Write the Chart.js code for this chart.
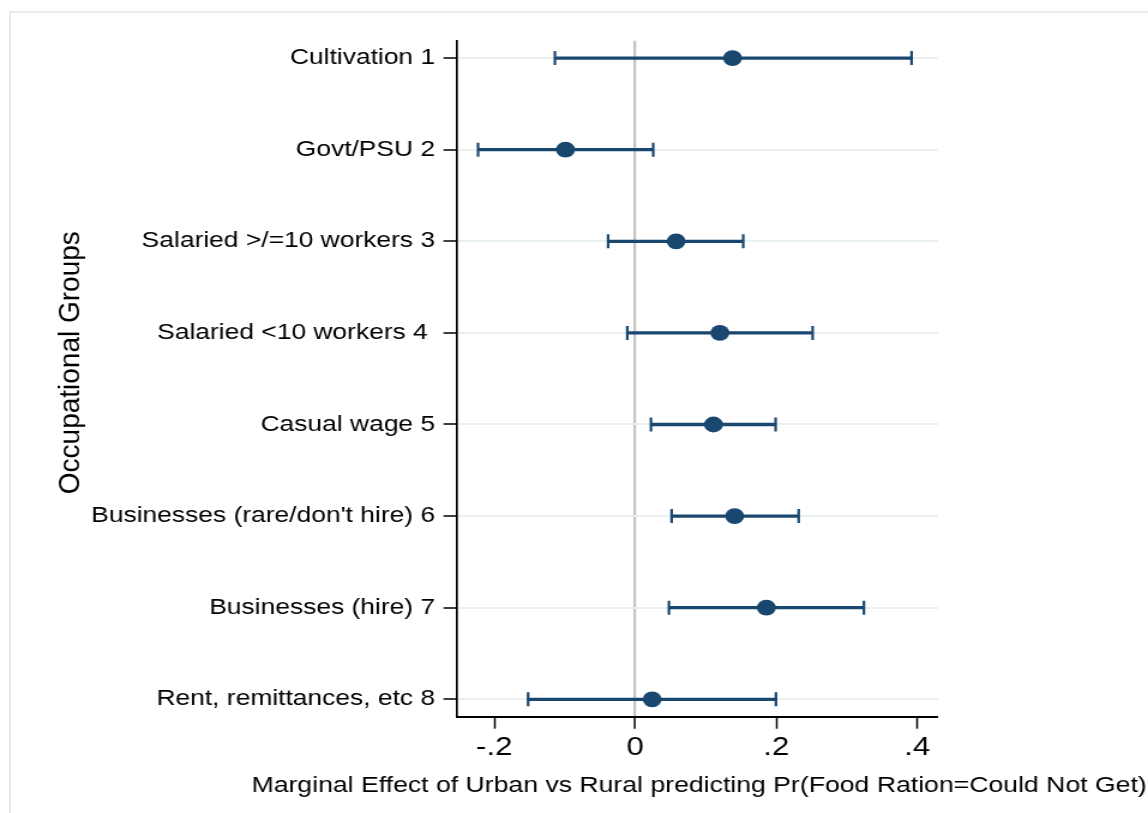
<!DOCTYPE html>
<html><head><meta charset="utf-8">
<script src="https://cdn.jsdelivr.net/npm/chart.js@4.4.1/dist/chart.umd.min.js"></script>
<style>
html,body{margin:0;padding:0;background:#fff;overflow:hidden;}
#frame{position:absolute;left:9px;top:11px;width:1160px;height:830px;border-left:2px solid #e6ecf1;border-top:2px solid #e6ecf1;box-sizing:border-box;}
#wrap{position:absolute;left:0;top:0;width:957px;height:813px;transform:scaleX(1.19958);transform-origin:0 0;}
</style></head><body>
<div id="frame"></div>
<div id="wrap"><canvas id="c"></canvas></div>
<script>
const categories = [
  'Cultivation 1',
  'Govt/PSU 2',
  'Salaried >/=10 workers 3',
  'Salaried <10 workers 4 ',
  'Casual wage 5',
  "Businesses (rare/don't hire) 6",
  'Businesses (hire) 7',
  'Rent, remittances, etc 8'
];
const estimates = [0.138, -0.099, 0.058, 0.120, 0.111, 0.141, 0.186, 0.024];
const ciLow     = [-0.114, -0.223, -0.0385, -0.0113, 0.0223, 0.0516, 0.0478, -0.152];
const ciHigh    = [0.392, 0.0255, 0.1532, 0.2516, 0.1991, 0.2318, 0.3244, 0.1996];
const xTickValues = [-0.2, 0, 0.2, 0.4];
const xTickLabels = ['-.2', '0', '.2', '.4'];
const xTitle = 'Marginal Effect of Urban vs Rural predicting Pr(Food Ration=Could Not Get)';
const yTitle = 'Occupational Groups';

const S = 1148 / 957;
const FAM = '"Liberation Sans", Arial, Helvetica, sans-serif';
const NAVY = '#1a476f';

const titlesPlugin = {
  id: 'axisTitles',
  afterDraw(chart) {
    const ctx = chart.ctx, a = chart.chartArea;
    // y title (rotated)
    ctx.save();
    ctx.translate(59.2, (a.top + a.bottom) / 2 - 16);
    ctx.scale(1 / S, 1);
    ctx.rotate(-Math.PI / 2);
    ctx.font = '28px ' + FAM;
    ctx.fillStyle = '#000';
    ctx.textAlign = 'center';
    ctx.textBaseline = 'middle';
    ctx.fillText(yTitle, 0, 0);
    ctx.restore();
    // x title
    ctx.save();
    ctx.font = '22.2px ' + FAM;
    ctx.fillStyle = '#000';
    ctx.textAlign = 'center';
    ctx.textBaseline = 'middle';
    ctx.fillText(xTitle, (a.left + a.right) / 2 + 1.5, chart.height - 27);
    ctx.restore();
  }
};

new Chart(document.getElementById('c'), {
  type: 'scatter',
  data: {
    datasets: [
      {
        type: 'scatter',
        data: estimates.map((v, i) => ({x: v, y: i + 1})),
        pointStyle: 'circle',
        pointRadius: 7.9,
        pointHoverRadius: 7.9,
        backgroundColor: NAVY,
        borderWidth: 0,
        order: 1
      },
      {
        type: 'scatter',
        data: ciLow.map((v, i) => ({x: v, y: i + 1})).concat(ciHigh.map((v, i) => ({x: v, y: i + 1}))),
        pointStyle: 'line',
        rotation: 90,
        pointRadius: 7,
        pointHoverRadius: 7,
        borderColor: NAVY,
        borderWidth: 2.2,
        order: 2
      },
      {
        type: 'bar',
        indexAxis: 'y',
        data: categories.map((c, i) => ({y: i + 1, x: [ciLow[i], ciHigh[i]]})),
        backgroundColor: NAVY,
        borderWidth: 0,
        barThickness: 2.6,
        order: 3
      }
    ]
  },
  options: {
    responsive: true,
    maintainAspectRatio: false,
    animation: false,
    layout: { padding: { left: 0, top: 40.7, right: 175.1, bottom: 0 } },
    plugins: { legend: { display: false }, tooltip: { enabled: false } },
    scales: {
      x: {
        type: 'linear',
        offset: false,
        min: -0.2533,
        max: 0.4294,
        afterBuildTicks: s => { s.ticks = xTickValues.map(v => ({value: v})); },
        afterFit: s => { s.height = 96.3; },
        ticks: {
          callback: (v, i) => xTickLabels[i],
          font: { size: 26, family: FAM },
          color: '#000',
          padding: 4,
          maxRotation: 0,
          autoSkip: false
        },
        grid: {
          offset: false,
          drawOnChartArea: true,
          color: c => (c.tick && c.tick.value === 0) ? '#c2c2c2' : 'rgba(0,0,0,0)',
          lineWidth: c => (c.tick && c.tick.value === 0) ? 2.2 : 1,
          tickColor: '#000',
          tickWidth: 1.5,
          tickLength: 12
        },
        border: { display: true, color: '#000', width: 2 }
      },
      y: {
        type: 'linear',
        offset: false,
        reverse: true,
        min: 0.81,
        max: 8.19,
        afterBuildTicks: s => { s.ticks = categories.map((c, i) => ({value: i + 1})); },
        afterFit: s => { s.width = 380.7; },
        ticks: {
          callback: (v) => categories[Math.round(v) - 1],
          font: { size: 22, family: FAM },
          color: '#000',
          padding: 7,
          autoSkip: false
        },
        grid: {
          offset: false,
          color: '#e8f0f2',
          lineWidth: 2,
          tickColor: '#000',
          tickWidth: 1.5,
          tickLength: 11
        },
        border: { display: true, color: '#000', width: 1.7 }
      }
    }
  },
  plugins: [titlesPlugin]
});
</script>
</body></html>
